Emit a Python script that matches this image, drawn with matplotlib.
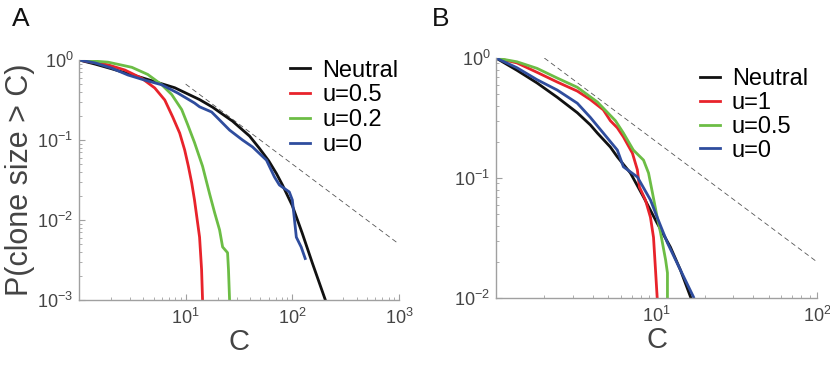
import numpy as np
import matplotlib
matplotlib.use("Agg")
import matplotlib.pyplot as plt
from matplotlib.ticker import LogLocator, FixedLocator, FixedFormatter, NullFormatter

plt.rcParams['font.family'] = ['Liberation Sans', 'DejaVu Sans']
plt.rcParams['mathtext.fontset'] = 'custom'
plt.rcParams['mathtext.rm'] = 'Liberation Sans'
plt.rcParams['mathtext.it'] = 'Liberation Sans'

# ---------------- Panel A data ----------------
a_neutral_c = [1, 1.41, 2, 3.9, 7.9, 13.5, 17.9, 20.7, 27.5, 39.7, 49, 60, 71, 80.7, 100, 124, 154, 204]
a_neutral_p = [1, 0.89, 0.78, 0.60, 0.45, 0.32, 0.257, 0.224, 0.172, 0.112, 0.079, 0.055, 0.038, 0.0275, 0.0151, 0.0068, 0.0029, 0.001]

a_u05_c = [1, 1.87, 2.69, 3.88, 5.13, 6.37, 7.56, 8.79, 9.79, 10.6, 11.4, 12.1, 13.5, 14.1, 14.4]
a_u05_p = [1, 0.87, 0.75, 0.59, 0.447, 0.316, 0.194, 0.122, 0.075, 0.047, 0.029, 0.0178, 0.0061, 0.0024, 0.001]

a_u02_c = [1, 1.87, 3.13, 4.41, 5.97, 7.4, 9.18, 10.4, 12.1, 14.4, 16.8, 18.7, 20.8, 22.2, 24.7, 25.2, 25.8]
a_u02_p = [1, 0.94, 0.81, 0.66, 0.49, 0.37, 0.24, 0.158, 0.093, 0.047, 0.021, 0.0123, 0.0075, 0.0046, 0.0039, 0.0024, 0.001]

a_u0_c = [1, 1.41, 2.03, 2.87, 4.14, 5.97, 8.4, 12.1, 13.5, 17.5, 19.5, 25.8, 34.1, 42.3, 57.2, 67.9, 75.6, 93.7, 100, 104, 109, 121, 132]
a_u0_p = [1, 0.92, 0.79, 0.65, 0.56, 0.49, 0.387, 0.29, 0.26, 0.224, 0.194, 0.133, 0.1, 0.082, 0.056, 0.0346, 0.0274, 0.0224, 0.0178, 0.011, 0.0061, 0.0046, 0.0033]

a_guide_c = [10, 1000]
a_guide_p = [0.5, 0.005]

# ---------------- Panel B data ----------------
b_neutral_c = [1, 1.35, 1.8, 2.41, 3.21, 3.87, 4.28, 5.16, 5.7, 6.88, 8.3, 10.1, 12.2, 14.1, 16.3]
b_neutral_p = [1, 0.79, 0.62, 0.47, 0.35, 0.277, 0.237, 0.181, 0.15, 0.11, 0.0695, 0.042, 0.0266, 0.0171, 0.0102]

b_u1_c = [1, 1.35, 1.8, 2.41, 3.21, 3.87, 4.66, 5.16, 5.7, 6.22, 7.08, 7.6, 7.83, 8.53, 9.17, 9.58, 9.86, 10.1]
b_u1_p = [1, 0.91, 0.76, 0.63, 0.53, 0.45, 0.37, 0.30, 0.262, 0.22, 0.161, 0.117, 0.084, 0.0656, 0.047, 0.032, 0.0171, 0.01]

b_u05_c = [1, 1.35, 1.8, 2.41, 3.21, 4.28, 5.55, 6.22, 7.17, 8.3, 8.92, 9.44, 10.1, 10.6, 11.4, 11.7, 11.7]
b_u05_p = [1, 0.93, 0.82, 0.68, 0.57, 0.43, 0.30, 0.237, 0.171, 0.141, 0.11, 0.075, 0.047, 0.035, 0.0207, 0.0162, 0.01]

b_u0_c = [1, 1.35, 1.8, 2.41, 3.21, 3.87, 4.66, 5.7, 6.22, 7.6, 9.17, 10.1, 11.7, 14.1, 17.0]
b_u0_p = [1, 0.83, 0.66, 0.54, 0.42, 0.32, 0.237, 0.171, 0.124, 0.102, 0.0656, 0.047, 0.0288, 0.0171, 0.0102]

b_guide_c = [2, 100]
b_guide_p = [1.0, 0.02]

a_labels = ['Neutral', 'u=0.5', 'u=0.2', 'u=0']
b_labels = ['Neutral', 'u=1', 'u=0.5', 'u=0']

BLACK = '#111111'
RED = '#e8232b'
GREEN = '#6cbd45'
BLUE = '#2f4d9e'
SPINE = '#a0a0a0'
TXT = '#444444'

fig = plt.figure(figsize=(8.30, 3.69), dpi=100)
axA = fig.add_axes([79/830, 1-300/369, 320/830, 240/369])
axB = fig.add_axes([496/830, 1-298/369, 321/830, 240/369])


def style(ax, xmax, ymin, xt):
    ax.set_xscale('log')
    ax.set_yscale('log')
    ax.set_xlim(1, xmax)
    ax.set_ylim(ymin, 1)
    for s in ['top', 'right']:
        ax.spines[s].set_visible(False)
    for s in ['left', 'bottom']:
        ax.spines[s].set_color(SPINE)
        ax.spines[s].set_linewidth(1.0)
    ax.xaxis.set_major_locator(FixedLocator(xt))
    ax.xaxis.set_major_formatter(FixedFormatter([r'$10^{%d}$' % int(np.log10(v)) for v in xt]))
    ax.xaxis.set_minor_locator(LogLocator(base=10, subs=np.arange(2, 10)))
    ax.xaxis.set_minor_formatter(NullFormatter())
    yt = [10.0**k for k in range(int(np.log10(ymin)), 1)]
    ax.yaxis.set_major_locator(FixedLocator(yt))
    ax.yaxis.set_major_formatter(FixedFormatter([r'$10^{%d}$' % int(round(np.log10(v))) for v in yt]))
    ax.yaxis.set_minor_locator(LogLocator(base=10, subs=np.arange(2, 10)))
    ax.yaxis.set_minor_formatter(NullFormatter())
    ax.tick_params(which='major', direction='in', length=4, width=0.8, color=SPINE,
                   labelsize=13, labelcolor=TXT)
    ax.tick_params(which='minor', direction='in', length=2.5, width=0.6, color=SPINE)
    ax.tick_params(axis='x', which='major', pad=6)
    ax.tick_params(axis='y', which='major', pad=4)
    ax.set_xlabel('C', fontsize=21, color=TXT, labelpad=0)


lw = 2.0
style(axA, 1000, 1e-3, [10, 100, 1000])
axA.plot(a_guide_c, a_guide_p, color='#555555', lw=0.6, dashes=(6, 4))
hA = [
    axA.plot(a_neutral_c, a_neutral_p, color=BLACK, lw=lw)[0],
    axA.plot(a_u05_c, a_u05_p, color=RED, lw=lw)[0],
    axA.plot(a_u02_c, a_u02_p, color=GREEN, lw=lw)[0],
    axA.plot(a_u0_c, a_u0_p, color=BLUE, lw=lw)[0],
]
axA.set_ylabel('P(clone size > C)', fontsize=22, color=TXT, labelpad=2)
axA.legend(hA, a_labels, loc='upper left', bbox_to_anchor=(0.66, 1.002), frameon=False,
           fontsize=17, handlelength=0.85, handletextpad=0.5, labelspacing=0.12,
           borderpad=0, borderaxespad=0)

style(axB, 100, 1e-2, [10, 100])
axB.plot(b_guide_c, b_guide_p, color='#555555', lw=0.6, dashes=(6, 4))
hB = [
    axB.plot(b_neutral_c, b_neutral_p, color=BLACK, lw=lw)[0],
    axB.plot(b_u1_c, b_u1_p, color=RED, lw=lw)[0],
    axB.plot(b_u05_c, b_u05_p, color=GREEN, lw=lw)[0],
    axB.plot(b_u0_c, b_u0_p, color=BLUE, lw=lw)[0],
]
axB.legend(hB, b_labels, loc='upper left', bbox_to_anchor=(0.635, 0.958), frameon=False,
           fontsize=17, handlelength=0.85, handletextpad=0.5, labelspacing=0.08,
           borderpad=0, borderaxespad=0)

fig.text(12/830, 1-19/369, 'A', fontsize=19, color=BLACK, va='center', ha='left')
fig.text(432/830, 1-19/369, 'B', fontsize=19, color=BLACK, va='center', ha='left')

fig.savefig('out.png', dpi=100)
